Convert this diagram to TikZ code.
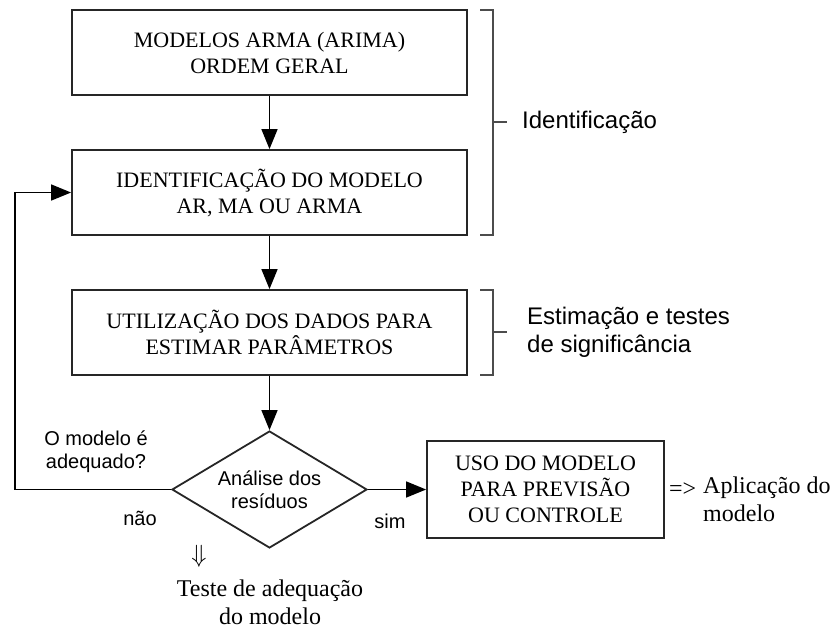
\documentclass[tikz,border=0pt]{standalone}
\usepackage{fontspec}
\setmainfont{Liberation Serif}
\newfontfamily\lsans{Liberation Sans}
\usetikzlibrary{shapes.geometric,arrows.meta}
\begin{document}
\begin{tikzpicture}[x=1pt,y=-1pt,
  boxnode/.style={draw=black!85,line width=1.8pt,minimum width=395pt,minimum height=85pt,
    align=center,inner sep=0pt,font=\fontsize{22}{26}\selectfont},
  decnode/.style={draw=black!85,line width=1.8pt,diamond,aspect=1.667,minimum width=195pt,
    minimum height=117pt,inner sep=0pt,align=center,font=\lsans\fontsize{20}{23}\selectfont},
  conn/.style={line width=1.5pt,-{Triangle[length=20pt,width=16pt]}},
  brack/.style={draw=black!70,line width=1.2pt},
  sanslbl/.style={inner sep=0pt,align=left,font=\lsans\fontsize{24}{28}\selectfont},
  smallsans/.style={inner sep=0pt,align=center,font=\lsans\fontsize{20}{23}\selectfont},
  seriflbl/.style={inner sep=0pt,align=center,font=\fontsize{24}{28}\selectfont}]
\useasboundingbox (0,0) rectangle (833,630);

\node[boxnode] (b1) at (269.5,52.5) {MODELOS ARMA (ARIMA)\\ORDEM GERAL};
\node[boxnode] (b2) at (269.5,192.5) {IDENTIFICAÇÃO DO MODELO\\AR, MA OU ARMA};
\node[boxnode] (b3) at (269.5,332.5) {UTILIZAÇÃO DOS DADOS PARA\\ESTIMAR PARÂMETROS};
\node[decnode] (dia) at (269.5,489.5) {Análise dos\\resíduos};
\node[boxnode,minimum width=237pt,minimum height=97pt] (b4) at (545.5,489.5)
  {USO DO MODELO\\PARA PREVISÃO\\OU CONTROLE};

\draw[conn] (b1) -- (b2);
\draw[conn] (b2) -- (b3);
\draw[conn] (b3) -- (dia);
\draw[conn] (dia) -- (b4);
\coordinate (fb) at (15,489.5);
\draw[conn] (dia.west) -- (fb) |- (b2.west);

% brackets
\coordinate (k1a) at (480,10);
\coordinate (k1b) at (493,10);
\coordinate (k1c) at (493,235);
\coordinate (k1d) at (480,235);
\coordinate (k1m) at (493,122);
\coordinate (k1t) at (507,122);
\draw[brack] (k1a) -- (k1b) -- (k1c) -- (k1d);
\draw[brack] (k1m) -- (k1t);
\coordinate (k2a) at (480,290);
\coordinate (k2b) at (493,290);
\coordinate (k2c) at (493,375);
\coordinate (k2d) at (480,375);
\coordinate (k2m) at (493,332);
\coordinate (k2t) at (507,332);
\draw[brack] (k2a) -- (k2b) -- (k2c) -- (k2d);
\draw[brack] (k2m) -- (k2t);

\node[sanslbl,anchor=west] (idl) at (522,122) {Identificação};
\node[sanslbl,anchor=west] (estl) at (527,332) {Estimação e testes\\de significância};

\node[smallsans] (q) at (96,452) {O modelo é\\adequado?};
\node[smallsans] (nao) at (140,518) {não};
\node[smallsans] (sim) at (390,521) {sim};

\node[inner sep=0pt,font=\fontsize{27}{30}\selectfont] (dn) at (199,556) {$\Downarrow$};
\node[seriflbl] (teste) at (270,602) {Teste de adequação\\do modelo};

\node[inner sep=0pt,font=\fontsize{24}{28}\selectfont,anchor=west] (imp) at (669,490) {=>};
\node[inner sep=0pt,font=\fontsize{24}{28}\selectfont,anchor=north west,align=left] (apl) at (703,477) {Aplicação do\\modelo};
\end{tikzpicture}
\end{document}
